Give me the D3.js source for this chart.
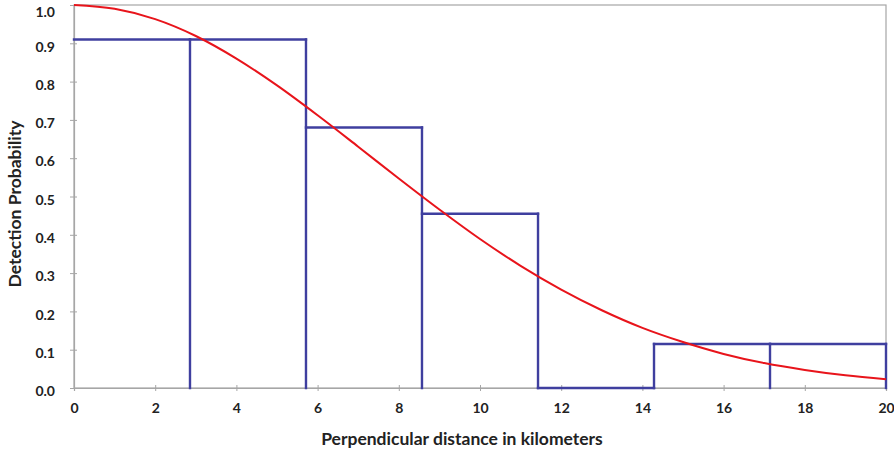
<!DOCTYPE html>
<html>
<head>
<meta charset="utf-8">
<script src="https://cdn.jsdelivr.net/npm/d3@7"></script>
<style>
  body { margin: 0; background: #fff; }
  svg { display: block; }
  text { font-family: Lato, "Open Sans", sans-serif; font-weight: bold; fill: #222; }
</style>
</head>
<body>
<svg width="894" height="452"></svg>
<script>
// histogram bins (edges in km) and their detection heights
const binEdges = [0, 2.857, 5.714, 8.571, 11.429, 14.286, 17.143, 20];
const binHeights = [0.91, 0.91, 0.68, 0.455, 0, 0.115, 0.115];

const curveX = [0, 1, 2, 3, 4, 5, 6, 7, 8, 9, 10, 11, 12, 13, 14, 15, 16, 17, 18, 19, 20];
const curveY = [1.0, 0.99, 0.963, 0.919, 0.86, 0.79, 0.712, 0.63, 0.547, 0.466, 0.389,
  0.319, 0.257, 0.203, 0.157, 0.12, 0.089, 0.065, 0.047, 0.033, 0.023];

const xTicks = [0, 2, 4, 6, 8, 10, 12, 14, 16, 18, 20];
const yTicks = [0, 0.1, 0.2, 0.3, 0.4, 0.5, 0.6, 0.7, 0.8, 0.9, 1.0];

const margin = { top: 5, right: 8, bottom: 64, left: 74 };
const WIDTH = 894;
const HEIGHT = 452;
const BLUE = '#3f3f9f';
const GREY = '#a6a6a6';

const svg = d3.select('svg');

const x = d3.scaleLinear().domain([0, 20]).range([margin.left, WIDTH - margin.right]);
const y = d3.scaleLinear().domain([0, 1]).range([HEIGHT - margin.bottom, margin.top]);

// ---------- frame ----------

svg.append('rect')
  .attr('x', x(0)).attr('y', y(1))
  .attr('width', x(20) - x(0)).attr('height', y(0) - y(1))
  .attr('fill', 'none').attr('stroke', GREY).attr('stroke-width', 1.2);

// ---------- axes ----------

const xAxis = svg.append('g')
  .attr('transform', `translate(0,${y(0)})`)
  .call(d3.axisBottom(x).tickValues(xTicks).tickFormat(d3.format('d')).tickSize(3).tickPadding(12));

const yAxis = svg.append('g')
  .attr('transform', `translate(${x(0)},0)`)
  .call(d3.axisLeft(y).tickValues(yTicks).tickFormat(d3.format('.1f')).tickSize(3).tickPadding(16));

[xAxis, yAxis].forEach((g) => {
  g.select('.domain').attr('stroke', GREY).attr('stroke-width', 1.2);
  g.selectAll('.tick line').attr('stroke', GREY);
  g.selectAll('text').attr('font-size', 14).attr('fill', '#222')
    .style('font-family', 'Lato, "Open Sans", sans-serif').style('font-weight', 'bold');
});

// cross ticks on both sides of the axis
xAxis.selectAll('.tick line').attr('y1', -3).attr('y2', 3);
yAxis.selectAll('.tick line').attr('x1', -4).attr('x2', 3);
yAxis.selectAll('.tick text').attr('dy', (d) => (d === 1 ? '0.85em' : '0.55em'));

// ---------- histogram (drawn as tops + edge verticals) ----------

const bins = binHeights.map((h, i) => ({ x0: binEdges[i], x1: binEdges[i + 1], h }));
const edges = binEdges.slice(1).map((e, i) => ({
  e,
  h: Math.max(binHeights[i], i + 1 < binHeights.length ? binHeights[i + 1] : 0),
}));

const hist = svg.append('g')
  .attr('stroke', BLUE)
  .attr('stroke-width', 2.4)
  .attr('stroke-linecap', 'square');

hist.selectAll('line.top')
  .data(bins)
  .join('line')
  .attr('class', 'top')
  .attr('x1', (d) => x(d.x0))
  .attr('x2', (d) => x(d.x1))
  .attr('y1', (d) => y(d.h))
  .attr('y2', (d) => y(d.h));

hist.selectAll('line.edge')
  .data(edges)
  .join('line')
  .attr('class', 'edge')
  .attr('x1', (d) => x(d.e))
  .attr('x2', (d) => x(d.e))
  .attr('y1', y(0))
  .attr('y2', (d) => y(d.h));

// ---------- curve ----------

const line = d3.line()
  .x((d, i) => x(curveX[i]))
  .y((d) => y(d))
  .curve(d3.curveMonotoneX);

svg.append('path')
  .datum(curveY)
  .attr('d', line)
  .attr('fill', 'none')
  .attr('stroke', '#e8141b')
  .attr('stroke-width', 2);

// ---------- titles ----------

svg.append('text')
  .attr('x', 462).attr('y', 445)
  .attr('text-anchor', 'middle')
  .attr('font-size', 17.5)
  .text('Perpendicular distance in kilometers');

svg.append('text')
  .attr('transform', 'translate(21,204) rotate(-90)')
  .attr('text-anchor', 'middle')
  .attr('font-size', 17.5)
  .text('Detection Probability');
</script>
</body>
</html>
